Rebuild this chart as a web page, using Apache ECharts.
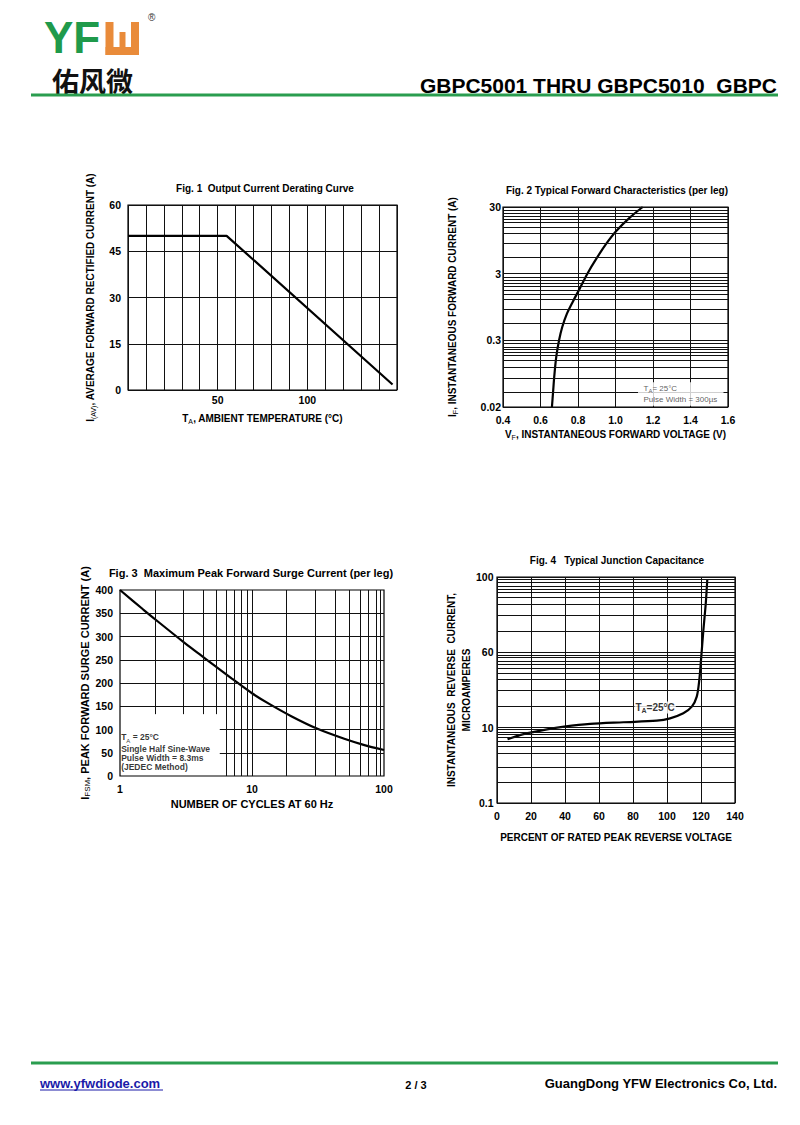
<!DOCTYPE html>
<html><head><meta charset="utf-8">
<script src="https://cdn.jsdelivr.net/npm/echarts@6/dist/echarts.min.js"></script>
<style>html,body{margin:0;padding:0;background:#fff}#c{width:800px;height:1125px}</style>
</head><body><div id="c"></div>
<script>
const FONT = '"Liberation Sans", Arial, Helvetica, sans-serif';

// ---------- Fig. 1  Output Current Derating Curve ----------
const fig1Temp = [0, 55, 147.5];
const fig1Current = [50, 50, 1.8];
const fig1XLabels = [50, 100];

// ---------- Fig. 2  Typical Forward Characteristics ----------
const fig2Voltage = [0.661, 0.667, 0.674, 0.684, 0.699, 0.716, 0.741, 0.773, 0.809, 0.853, 0.898, 0.951, 1.004, 1.076, 1.145];
const fig2Current = [0.03, 0.050, 0.090, 0.169, 0.30, 0.475, 0.754, 1.15, 1.79, 3.1, 5.04, 8.45, 13.1, 20.8, 30];
const fig2GridCurrent = [26.7, 23.8, 21.7, 19.6, 17.5, 15, 12.2, 8.5, 5.3,
                         2.67, 2.43, 2.16, 1.92, 1.67, 1.49, 1.25, 0.88, 0.55,
                         0.267, 0.243, 0.222, 0.2, 0.178, 0.153, 0.121, 0.083, 0.054];
const fig2TickValues = [30, 3, 0.3, 0.03];
const fig2TickLabels = ['30', '3', '0.3', '0.02'];

// ---------- Fig. 3  Maximum Peak Forward Surge Current ----------
const fig3Cycles = [1, 1.5, 2, 3, 4, 5, 7, 10, 13.5, 20, 31, 50, 70, 100];
const fig3Surge = [400, 358, 329, 289, 262, 241, 210, 178, 155, 128, 102, 80, 67, 56];
const fig3GridCyclesShort = [1.86, 3.02, 4.28, 5.34];
const fig3GridCyclesFull = [6.35, 7.3, 8.26, 9.27, 10, 18.3, 30, 42.5, 54.6, 65.8, 76, 88, 94.3];
const fig3GridSurgeShort = [50, 100];
const fig3GridSurgeFull = [150, 200, 250, 300, 350];
const fig3NoteTop = 133;    // surge value where the short vertical grid lines stop
const fig3NoteRight = 5.7;  // cycles value where the short horizontal grid lines start

// ---------- Fig. 4  Typical Junction Capacitance ----------
const fig4Percent = [6.2, 15.6, 29.4, 39.5, 54.8, 74.4, 94, 101.8, 109.6, 114.6, 117.5, 119, 120, 121.4, 122.8, 123.7];
const fig4Current = [0.70, 0.82, 0.95, 1.03, 1.12, 1.18, 1.24, 1.33, 1.55, 1.9, 2.58, 4.3, 7.9, 19.7, 44.5, 92.5];
const fig4GridCurrent = [93, 84.5, 76.5, 69.3, 62.7, 54, 44, 31, 19,
                         9.2, 8.6, 7.7, 7.0, 6.1, 5.3, 4.4, 3.1, 1.94,
                         0.941, 0.877, 0.817, 0.754, 0.668, 0.557, 0.464, 0.304, 0.187];
const fig4TickValues = [100, 10, 1, 0.1];
const fig4TickLabels = ['100', '60', '10', '0.1'];

const zip = (a, b) => a.map((v, i) => [v, b[i]]);

const tick = {color: '#000', fontFamily: FONT, fontWeight: 'bold', fontSize: 10.5};
const gridLine = {color: '#111', width: 1, type: 'solid'};
const richName = (size) => ({
  b: {fontFamily: FONT, fontWeight: 'bold', fontSize: size, color: '#000', lineHeight: 13},
  s: {fontFamily: FONT, fontWeight: 'normal', fontSize: size - 3, color: '#000', lineHeight: 13, verticalAlign: 'bottom'}
});
const nameStyle = (size) => ({color: '#000', fontFamily: FONT, fontWeight: 'bold', fontSize: size, rich: richName(size)});
const curve = {color: '#000', width: 2.2};

function logTickMarks(values, labels, dist) {
  return values.map((v, i) => ({
    yAxis: v,
    label: {show: true, position: 'start', formatter: labels[i], distance: dist,
            color: '#000', fontFamily: FONT, fontWeight: 'bold', fontSize: 10.5}
  }));
}

const gridBox = {show: true, borderColor: '#000', borderWidth: 1.2, backgroundColor: 'transparent'};

const option = {
  animation: false,
  grid: [
    Object.assign({left: 128, top: 205, width: 269, height: 185}, gridBox),
    Object.assign({left: 503, top: 207, width: 225, height: 200}, gridBox),
    Object.assign({left: 120, top: 590, width: 264, height: 186}, gridBox),
    Object.assign({left: 497, top: 577, width: 238, height: 226}, gridBox)
  ],
  xAxis: [
    {gridIndex: 0, type: 'value', min: 0, max: 150, interval: 10,
     axisLine: {show: false}, axisTick: {show: false},
     splitLine: {show: true, lineStyle: gridLine},
     axisLabel: Object.assign({margin: 4, formatter: v => fig1XLabels.includes(v) ? String(v) : ''}, tick),
     name: '{b|T}{s|A}{b|, AMBIENT TEMPERATURE (°C)}', nameLocation: 'middle', nameGap: 22, nameTextStyle: nameStyle(10)},
    {gridIndex: 1, type: 'value', min: 0.4, max: 1.6, interval: 0.2,
     axisLine: {show: false}, axisTick: {show: false},
     splitLine: {show: true, lineStyle: gridLine},
     axisLabel: Object.assign({margin: 7, formatter: v => v.toFixed(1)}, tick),
     name: '{b|V}{s|F}{b|, INSTANTANEOUS FORWARD VOLTAGE (V)}', nameLocation: 'middle', nameGap: 21, nameTextStyle: nameStyle(10)},
    {gridIndex: 2, type: 'log', logBase: 10, min: 1, max: 100,
     axisLine: {show: false}, axisTick: {show: false}, splitLine: {show: false},
     axisLabel: Object.assign({margin: 7, formatter: v => String(v)}, tick),
     name: 'NUMBER OF CYCLES AT 60 Hz', nameLocation: 'middle', nameGap: 22, nameTextStyle: nameStyle(11)},
    {gridIndex: 3, type: 'value', min: 0, max: 140, interval: 20,
     axisLine: {show: false}, axisTick: {show: false},
     splitLine: {show: true, lineStyle: gridLine},
     axisLabel: Object.assign({margin: 7}, tick),
     name: 'PERCENT OF RATED PEAK REVERSE VOLTAGE', nameLocation: 'middle', nameGap: 29, nameTextStyle: nameStyle(10)}
  ],
  yAxis: [
    {gridIndex: 0, type: 'value', min: 0, max: 60, interval: 15,
     axisLine: {show: false}, axisTick: {show: false},
     splitLine: {show: true, lineStyle: gridLine},
     axisLabel: Object.assign({margin: 7}, tick),
     name: '{b|I}{s|(AV)}{b|, AVERAGE FORWARD RECTIFIED CURRENT (A)}', nameLocation: 'middle', nameGap: 31, nameTextStyle: nameStyle(10)},
    {gridIndex: 1, type: 'log', logBase: 10, min: 0.03, max: 30,
     axisLine: {show: false}, axisTick: {show: false}, splitLine: {show: false}, axisLabel: {show: false},
     name: '{b|I}{s|F}{b|, INSTANTANEOUS FORWARD CURRENT (A)}', nameLocation: 'middle', nameGap: 44, nameTextStyle: nameStyle(10)},
    {gridIndex: 2, type: 'value', min: 0, max: 400, interval: 50,
     axisLine: {show: false}, axisTick: {show: false}, splitLine: {show: false},
     axisLabel: Object.assign({margin: 7}, tick),
     name: '{b|I}{s|FSM}{b|, PEAK FORWARD SURGE CURRENT (A)}', nameLocation: 'middle', nameGap: 28, nameTextStyle: nameStyle(11)},
    {gridIndex: 3, type: 'log', logBase: 10, min: 0.1, max: 100,
     axisLine: {show: false}, axisTick: {show: false}, splitLine: {show: false}, axisLabel: {show: false},
     name: '{b|INSTANTANEOUS  REVERSE  CURRENT,}\n{b|MICROAMPERES}', nameLocation: 'middle', nameGap: 23,
     nameTextStyle: Object.assign(nameStyle(10), {lineHeight: 15, rich: {b: {fontFamily: FONT, fontWeight: 'bold', fontSize: 10, color: '#000', lineHeight: 15}}})}
  ],
  series: [
    {type: 'line', xAxisIndex: 0, yAxisIndex: 0, data: zip(fig1Temp, fig1Current),
     symbol: 'none', lineStyle: curve, silent: true, z: 4},
    {type: 'line', xAxisIndex: 1, yAxisIndex: 1, data: zip(fig2Voltage, fig2Current),
     symbol: 'none', smooth: 0.3, lineStyle: curve, silent: true, z: 4,
     markLine: {silent: true, symbol: 'none', animation: false, lineStyle: gridLine, label: {show: false},
       data: fig2GridCurrent.map(v => ({yAxis: v})).concat(logTickMarks(fig2TickValues, fig2TickLabels, 2))}},
    {type: 'line', xAxisIndex: 2, yAxisIndex: 2, data: zip(fig3Cycles, fig3Surge),
     symbol: 'none', smooth: 0.3, lineStyle: curve, silent: true, z: 4,
     markLine: {silent: true, symbol: 'none', animation: false, lineStyle: gridLine, label: {show: false},
       data: []
         .concat(fig3GridCyclesShort.map(v => [{coord: [v, fig3NoteTop]}, {coord: [v, 400]}]))
         .concat(fig3GridCyclesFull.map(v => ({xAxis: v})))
         .concat(fig3GridSurgeShort.map(v => [{coord: [fig3NoteRight, v]}, {coord: [100, v]}]))
         .concat(fig3GridSurgeFull.map(v => ({yAxis: v})))}},
    {type: 'line', xAxisIndex: 3, yAxisIndex: 3, data: zip(fig4Percent, fig4Current),
     symbol: 'none', smooth: 0.3, lineStyle: curve, silent: true, z: 4,
     markLine: {silent: true, symbol: 'none', animation: false, lineStyle: gridLine, label: {show: false},
       data: fig4GridCurrent.map(v => ({yAxis: v})).concat(logTickMarks(fig4TickValues, fig4TickLabels, 3.5))}},
    // notes
    {type: 'scatter', xAxisIndex: 1, yAxisIndex: 1, data: [[1.12, 0.0703]], symbolSize: 0, silent: true, z: 10,
     label: {show: true, position: [0, 0], align: 'left', verticalAlign: 'top',
       formatter: '{a|T}{s|A}{a|= 25°C}\n{a|Pulse Width = 300µs}', backgroundColor: '#fff', width: 80, padding: [0, 0, 0, 5.5],
       rich: {a: {fontFamily: FONT, fontSize: 8, color: '#333', lineHeight: 11.7},
              s: {fontFamily: FONT, fontSize: 6, color: '#333', lineHeight: 11.7, verticalAlign: 'bottom'}}}},
    {type: 'scatter', xAxisIndex: 2, yAxisIndex: 2, data: [[1.02, 97]], symbolSize: 0, silent: true, z: 10,
     label: {show: true, position: [0, 0], align: 'left', verticalAlign: 'top',
       formatter: '{f|T}{fs|A}{f| = 25°C}\n{g|Single Half Sine-Wave}\n{g|Pulse Width = 8.3ms}\n{g|(JEDEC Method)}',
       rich: {f: {fontFamily: FONT, fontWeight: 'bold', fontSize: 8.5, color: '#000', lineHeight: 13},
              fs: {fontFamily: FONT, fontSize: 6, color: '#000', lineHeight: 13, verticalAlign: 'bottom'},
              g: {fontFamily: FONT, fontWeight: 'bold', fontSize: 8.5, color: '#000', lineHeight: 9.3}}}},
    {type: 'scatter', xAxisIndex: 3, yAxisIndex: 3, data: [[93, 1.85]], symbolSize: 0, silent: true, z: 10,
     label: {show: true, position: 'inside',
       formatter: '{a|T}{s|A}{a|=25°C}', backgroundColor: '#fff', padding: [0, 1],
       rich: {a: {fontFamily: FONT, fontWeight: 'bold', fontSize: 10, color: '#000', lineHeight: 12},
              s: {fontFamily: FONT, fontWeight: 'bold', fontSize: 7, color: '#000', lineHeight: 12, verticalAlign: 'bottom'}}}}
  ],
  graphic: [
    // logo
    {type: 'text', x: 44, y: 37.5, style: {text: 'YF', font: 'bold 44px ' + FONT, lineHeight: 34, fill: '#1f9a4b', align: 'left', verticalAlign: 'middle'}},
    {type: 'rect', shape: {x: 105.5, y: 22, width: 8, height: 33}, style: {fill: '#e98b3a'}},
    {type: 'rect', shape: {x: 131, y: 22, width: 8, height: 33}, style: {fill: '#e98b3a'}},
    {type: 'rect', shape: {x: 105.5, y: 47, width: 33.5, height: 8}, style: {fill: '#e98b3a'}},
    {type: 'rect', shape: {x: 119.5, y: 32, width: 6, height: 16}, style: {fill: '#e98b3a'}},
    {type: 'text', x: 148, y: 17, style: {text: '®', font: '10px ' + FONT, fill: '#333', align: 'left', verticalAlign: 'middle'}},
    {type: 'text', x: 52, y: 80.3, style: {text: '佑风微', font: 'bold 27px "Noto Sans CJK SC"', lineHeight: 27, fill: '#111', align: 'left', verticalAlign: 'middle'}},
    {type: 'line', shape: {x1: 31, y1: 95, x2: 778, y2: 95}, style: {stroke: '#2a9d4f', lineWidth: 3}},
    {type: 'text', x: 777, y: 85, style: {text: 'GBPC5001 THRU GBPC5010  GBPC', font: 'bold 21px ' + FONT, fill: '#000', align: 'right', verticalAlign: 'middle'}},
    // figure titles
    {type: 'text', x: 265, y: 188, style: {text: 'Fig. 1  Output Current Derating Curve', font: 'bold 10px ' + FONT, fill: '#000', align: 'center', verticalAlign: 'middle'}},
    {type: 'text', x: 617, y: 190, style: {text: 'Fig. 2 Typical Forward Characteristics (per leg)', font: 'bold 10px ' + FONT, fill: '#000', align: 'center', verticalAlign: 'middle'}},
    {type: 'text', x: 251, y: 573, style: {text: 'Fig. 3  Maximum Peak Forward Surge Current (per leg)', font: 'bold 11px ' + FONT, fill: '#000', align: 'center', verticalAlign: 'middle'}},
    {type: 'text', x: 617, y: 560, style: {text: 'Fig. 4   Typical Junction Capacitance', font: 'bold 10px ' + FONT, fill: '#000', align: 'center', verticalAlign: 'middle'}},
    // footer
    {type: 'line', shape: {x1: 31, y1: 1063, x2: 778, y2: 1063}, style: {stroke: '#2a9d4f', lineWidth: 3}},
    {type: 'text', x: 40, y: 1083, style: {text: 'www.yfwdiode.com', font: 'bold 13px ' + FONT, fill: '#1a1aa8', align: 'left', verticalAlign: 'middle'}},
    {type: 'line', shape: {x1: 40, y1: 1090, x2: 163, y2: 1090}, style: {stroke: '#1a1aa8', lineWidth: 1}},
    {type: 'text', x: 416, y: 1085, style: {text: '2 / 3', font: 'bold 11px ' + FONT, fill: '#000', align: 'center', verticalAlign: 'middle'}},
    {type: 'text', x: 777, y: 1083, style: {text: 'GuangDong YFW Electronics Co, Ltd.', font: 'bold 13px ' + FONT, fill: '#000', align: 'right', verticalAlign: 'middle'}}
  ]
};

const chart = echarts.init(document.getElementById('c'), null, {renderer: 'svg', width: 800, height: 1125});
chart.setOption(option);
</script></body></html>
